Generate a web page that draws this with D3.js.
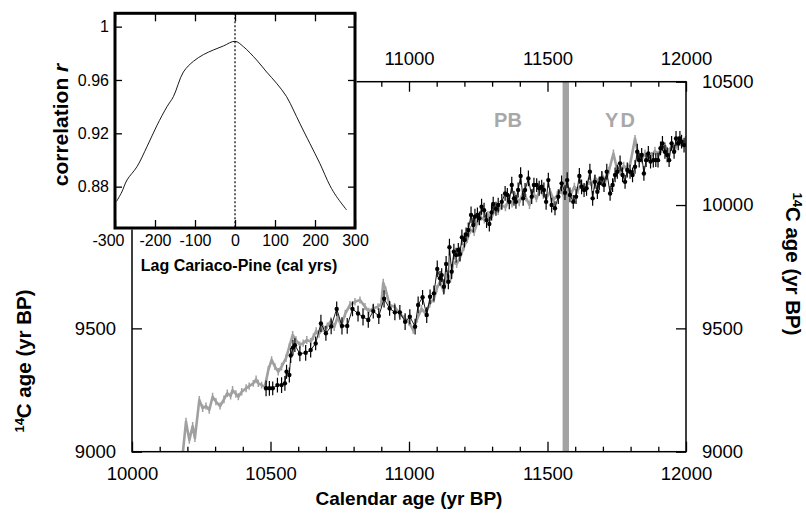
<!DOCTYPE html>
<html><head><meta charset="utf-8">
<script src="https://cdn.jsdelivr.net/npm/d3@7"></script>
<style>
body{margin:0;background:#fff;}
svg{display:block;font-family:"Liberation Sans",Arial,Helvetica,sans-serif;}
</style></head>
<body><svg id="c" width="806" height="516"></svg>
<script>
// ---- data ----
const xTicksMain = [10000, 10500, 11000, 11500, 12000];
const xTicksTop = [11000, 11500, 12000];
const yTicksLeft = [9000, 9500];
const yTicksRight = [9000, 9500, 10000, 10500];
const lagTicks = [-300, -200, -100, 0, 100, 200, 300];
const corrTicks = [0.88, 0.92, 0.96, 1];
const pbydBoundary = 11566;

// Correlation vs lag (inset)
const lags = [-296,-283,-270,-245,-220,-195,-170,-154,-129,-104,-79,-54,-29,0,21,54,79,104,129,146,162,187,212,237,254,279];
const corr = [0.869,0.876,0.885,0.895,0.910,0.926,0.940,0.9475,0.966,0.974,0.979,0.9825,0.9855,0.989,0.985,0.975,0.966,0.9575,0.9475,0.9375,0.9275,0.9125,0.8975,0.881,0.8725,0.8625];

// Pine (tree-ring) series: [cal yr, 14C age, 1-sigma]
const pine = [
[10183,8990,15],[10195,9122,16],[10207,9047,15],[10219,9104,16],[10227,9054,15],[10243,9210,16],
[10255,9176,15],[10267,9185,14],[10279,9169,15],[10291,9223,16],[10303,9203,15],[10318,9185,14],
[10332,9212,16],[10344,9237,15],[10356,9226,14],[10363,9250,16],[10375,9234,15],[10384,9223,14],
[10396,9243,15],[10412,9257,16],[10423,9266,15],[10438,9277,14],[10448,9293,16],[10456,9277,15],
[10468,9270,14],[10480,9263,15],[10492,9331,16],[10504,9372,15],[10516,9345,14],[10528,9324,15],
[10540,9345,16],[10556,9379,15],[10568,9426,14],[10580,9473,16],[10592,9453,15],[10606,9433,14],
[10618,9440,15],[10631,9453,16],[10645,9446,15],[10655,9466,14],[10665,9490,15],[10675,9478,16],
[10690,9500,15],[10705,9510,14],[10718,9530,15],[10730,9505,16],[10742,9545,15],[10755,9512,14],
[10770,9560,15],[10787,9595,16],[10805,9608,15],[10823,9615,14],[10841,9588,15],[10855,9568,16],
[10870,9581,15],[10888,9588,14],[10900,9600,15],[10907,9685,16],[10916,9655,15],[10930,9595,14],
[10948,9588,15],[10965,9560,16],[10985,9540,15],[11000,9525,14],[11015,9493,15],[11030,9540,16],
[11045,9580,15],[11060,9560,14],[11075,9600,15],[11090,9620,16],[11100,9660,15],[11112,9690,14],
[11125,9650,15],[11138,9720,16],[11150,9700,15],[11160,9770,14],[11172,9760,15],[11185,9790,16],
[11198,9830,15],[11210,9860,14],[11222,9900,15],[11235,9890,16],[11248,9935,15],[11260,9950,14],
[11272,9940,15],[11285,9960,16],[11298,9950,15],[11310,9980,14],[11322,9975,15],[11335,10000,16],
[11348,9990,15],[11360,10020,14],[11372,10005,15],[11385,10035,16],[11398,10010,15],[11410,10045,14],
[11422,10030,15],[11435,10000,16],[11448,10050,15],[11460,10025,14],[11472,10060,15],[11485,10040,16],
[11497,10030,15],[11510,10055,14],[11522,10020,15],[11535,10040,16],[11548,10060,15],[11560,10035,14],
[11572,10050,15],[11585,10045,16],[11597,10075,15],[11610,10060,14],[11622,10085,15],[11635,10070,16],
[11648,10095,15],[11660,10080,14],[11672,10110,15],[11685,10095,16],[11698,10120,15],[11710,10100,14],
[11722,10140,15],[11738,10209,16],[11750,10150,15],[11762,10135,14],[11775,10160,15],[11788,10145,16],
[11800,10175,15],[11816,10270,14],[11828,10200,15],[11840,10185,16],[11852,10210,15],[11864,10195,14],
[11876,10200,15],[11888,10220,16],[11900,10205,15],[11912,10225,14],[11925,10240,15],[11938,10215,16],
[11950,10245,15],[11962,10230,14],[11975,10260,15],[11988,10250,16],[11998,10265,15]
];

// Cariaco Basin series: [cal yr, 14C age, 1-sigma]
const cariaco = [
[10484,9257,32],[10496,9257,30],[10508,9257,28],[10525,9270,30],[10540,9270,32],[10552,9277,30],
[10558,9324,28],[10568,9311,30],[10573,9390,30],[10581,9422,32],[10588,9432,28],
[10606,9397,30],[10627,9401,32],[10645,9412,30],[10663,9439,28],[10682,9520,35],
[10700,9480,30],[10719,9508,32],[10739,9579,30],[10758,9510,35],[10777,9510,32],
[10796,9579,30],[10816,9560,32],[10834,9547,35],[10853,9534,32],[10871,9570,30],
[10891,9550,32],[10910,9620,35],[10930,9581,30],[10949,9565,32],[10967,9565,30],
[10986,9527,34],[11003,9547,30],[11022,9507,32],[11033,9595,34],[11049,9626,30],
[11064,9554,32],[11076,9628,30],[11090,9642,32],[11102,9741,34],[11112,9703,30],
[11118,9716,28],[11126,9669,30],[11134,9761,32],[11142,9689,30],[11146,9829,34],
[11154,9730,30],[11162,9811,32],[11170,9797,30],[11178,9818,28],[11184,9801,30],
[11191,9869,32],[11200,9858,30],[11206,9881,28],[11214,9899,30],[11224,9960,34],
[11232,9919,30],[11238,9953,32],[11247,9960,30],[11254,9946,28],[11262,9993,32],
[11271,9979,30],[11280,9939,32],[11290,9923,30],[11298,9970,32],[11304,10004,30],
[11314,9985,28],[11322,10000,30],[11335,10013,32],[11347,10047,30],[11355,10041,28],
[11362,10013,30],[11371,10081,34],[11379,10027,30],[11386,10013,28],[11394,10061,30],
[11403,10118,35],[11412,10027,30],[11419,10061,28],[11431,10108,32],[11443,10034,30],
[11451,10081,30],[11461,10081,28],[11470,10068,30],[11479,10074,28],[11487,10061,30],
[11495,10013,32],[11503,10101,30],[11515,10000,30],[11527,9987,28],[11539,10034,30],
[11551,10088,32],[11563,10050,30],[11571,10101,32],[11581,10041,30],[11593,10013,28],
[11603,10034,30],[11615,10118,32],[11623,10074,30],[11632,10061,28],[11641,10068,30],
[11653,10135,32],[11663,10027,30],[11671,10094,28],[11680,10054,30],[11687,10088,28],
[11696,10108,30],[11704,10081,28],[11714,10135,32],[11726,10047,30],[11735,10081,28],
[11744,10122,30],[11752,10135,28],[11762,10169,32],[11771,10122,30],[11780,10094,28],
[11788,10142,30],[11798,10135,28],[11807,10122,30],[11816,10155,28],[11824,10216,32],
[11831,10182,30],[11840,10203,28],[11848,10128,30],[11856,10182,28],[11864,10209,30],
[11872,10176,28],[11882,10182,30],[11891,10182,28],[11899,10182,30],[11908,10230,28],
[11915,10250,30],[11924,10216,28],[11932,10203,30],[11939,10182,28],[11948,10250,30],
[11957,10216,28],[11964,10270,30],[11972,10250,28],[11978,10270,30],[11984,10257,28],
[11993,10243,30]
];

// ---- drawing ----
const svg = d3.select("#c");
const L = 132, R = 686, T = 81.7, B = 451.7;
const x = d3.scaleLinear().domain([10000, 12000]).range([L, R]);
const y = d3.scaleLinear().domain([9000, 10500]).range([B, T]);
const grey = "#a0a0a0";
const tickFont = "18.5px";

svg.append("defs").append("clipPath").attr("id", "plotclip")
  .append("rect").attr("x", L).attr("y", T).attr("width", R - L).attr("height", B - T);

const plot = svg.append("g").attr("clip-path", "url(#plotclip)");

// Pine error bars + line
plot.append("g").selectAll("line").data(pine).join("line")
  .attr("x1", d => x(d[0])).attr("x2", d => x(d[0]))
  .attr("y1", d => y(d[1] - d[2])).attr("y2", d => y(d[1] + d[2]))
  .attr("stroke", grey).attr("stroke-width", 1.5);
plot.append("path").datum(pine)
  .attr("d", d3.line().x(d => x(d[0])).y(d => y(d[1])))
  .attr("fill", "none").attr("stroke", grey).attr("stroke-width", 2.6)
  .attr("stroke-linejoin", "round");

// PB/YD boundary bar
plot.append("rect").attr("x", x(pbydBoundary) - 3.2).attr("y", T)
  .attr("width", 6.4).attr("height", B - T).attr("fill", "#a3a3a3");

// Cariaco error bars, line, points
plot.append("g").selectAll("line").data(cariaco).join("line")
  .attr("x1", d => x(d[0])).attr("x2", d => x(d[0]))
  .attr("y1", d => y(d[1] - d[2])).attr("y2", d => y(d[1] + d[2]))
  .attr("stroke", "#000").attr("stroke-width", 1.2);
plot.append("path").datum(cariaco)
  .attr("d", d3.line().x(d => x(d[0])).y(d => y(d[1])))
  .attr("fill", "none").attr("stroke", "#000").attr("stroke-width", 0.9);
plot.append("g").selectAll("circle").data(cariaco).join("circle")
  .attr("cx", d => x(d[0])).attr("cy", d => y(d[1])).attr("r", 2.2).attr("fill", "#000");

// Labels PB / YD
svg.append("text").attr("x", 508).attr("y", 127).attr("text-anchor", "middle")
  .attr("font-size", "20px").attr("font-weight", "bold").attr("fill", "#a8a8a8").text("PB");
svg.append("text").attr("x", 621).attr("y", 127).attr("text-anchor", "middle")
  .attr("font-size", "20px").attr("font-weight", "bold").attr("fill", "#a8a8a8")
  .attr("letter-spacing", "2px").text("YD");

// Frame
svg.append("rect").attr("x", L).attr("y", T).attr("width", R - L).attr("height", B - T)
  .attr("fill", "none").attr("stroke", "#000").attr("stroke-width", 1.5);

function styleAxis(g) {
  g.select(".domain").remove();
  g.selectAll(".tick line").attr("stroke", "#000").attr("stroke-width", 1.3);
  g.selectAll(".tick text").attr("font-size", tickFont).attr("fill", "#000")
    .attr("font-family", "Liberation Sans, Arial, sans-serif");
}
const minorYears = d3.range(10100, 12000, 100).filter(v => v % 500 !== 0);
const plain = d => String(d);

// bottom
svg.append("g").attr("transform", `translate(0,${B})`)
  .call(d3.axisBottom(x).tickValues(minorYears).tickSize(-5).tickFormat(""))
  .call(styleAxis);
svg.append("g").attr("transform", `translate(0,${B})`)
  .call(d3.axisBottom(x).tickValues(xTicksMain).tickSize(-10).tickPadding(15).tickFormat(plain))
  .call(styleAxis);
// top
svg.append("g").attr("transform", `translate(0,${T})`)
  .call(d3.axisTop(x).tickValues(minorYears).tickSize(-5).tickFormat(""))
  .call(styleAxis);
svg.append("g").attr("transform", `translate(0,${T})`)
  .call(d3.axisTop(x).tickValues(xTicksMain).tickSize(-10).tickPadding(17)
    .tickFormat(d => xTicksTop.includes(d) ? String(d) : ""))
  .call(styleAxis);
// left
svg.append("g").attr("transform", `translate(${L},0)`)
  .call(d3.axisLeft(y).tickValues(yTicksLeft).tickSize(-10).tickPadding(16).tickFormat(plain))
  .call(styleAxis);
// right
svg.append("g").attr("transform", `translate(${R},0)`)
  .call(d3.axisRight(y).tickValues(yTicksRight).tickSize(-10).tickPadding(16).tickFormat(plain))
  .call(styleAxis);

// axis titles
svg.append("text").attr("x", 409).attr("y", 505).attr("text-anchor", "middle")
  .attr("font-size", "19px").attr("font-weight", "bold").text("Calendar age (yr BP)");

function c14Title(tx, ty, rot) {
  const t = svg.append("text").attr("transform", `translate(${tx},${ty}) rotate(${rot})`)
    .attr("text-anchor", "middle").attr("font-size", "20.5px").attr("font-weight", "bold");
  t.append("tspan").attr("font-size", "13px").attr("dy", "-7").text("14");
  t.append("tspan").attr("dy", "7").text("C age (yr BP)");
}
c14Title(31, 361, -90);
c14Title(786, 264, 90);

// ---- inset ----
const IL = 115, IR = 355, IT = 13.3, IB = 228;
const ix = d3.scaleLinear().domain([-300, 300]).range([IL, IR]);
const iy = d3.scaleLinear().domain([0.849, 1.01]).range([IB, IT]);
const inset = svg.append("g");
inset.append("rect").attr("x", IL - 1.5).attr("y", IT - 1.5).attr("width", IR - IL + 3).attr("height", IB - IT + 3)
  .attr("fill", "#fff");

inset.append("line").attr("x1", ix(0)).attr("x2", ix(0)).attr("y1", IT).attr("y2", IB)
  .attr("stroke", "#000").attr("stroke-width", 1.2).attr("stroke-dasharray", "2,2");

inset.append("path").datum(d3.zip(lags, corr))
  .attr("d", d3.line().x(d => ix(d[0])).y(d => iy(d[1])).curve(d3.curveCatmullRom))
  .attr("fill", "none").attr("stroke", "#000").attr("stroke-width", 0.9);

function styleInset(g) {
  g.select(".domain").remove();
  g.selectAll(".tick line").attr("stroke", "#000").attr("stroke-width", 1.3);
  g.selectAll(".tick text").attr("font-size", "16px").attr("fill", "#000");
}
inset.append("g").attr("transform", `translate(0,${IB})`)
  .call(d3.axisBottom(ix).tickValues(lagTicks).tickSize(-8).tickPadding(7).tickFormat(plain))
  .call(styleInset)
  .call(g => g.selectAll(".tick").filter(d => d === -300).select("text").attr("dx", -7));
inset.append("g").attr("transform", `translate(0,${IT})`)
  .call(d3.axisTop(ix).tickValues(lagTicks).tickSize(-8).tickFormat(""))
  .call(styleInset);
inset.append("g").attr("transform", `translate(${IL},0)`)
  .call(d3.axisLeft(iy).tickValues(corrTicks).tickSize(-7).tickPadding(6).tickFormat(d => d === 1 ? "1" : d3.format(".2f")(d)))
  .call(styleInset);
inset.append("g").attr("transform", `translate(${IR},0)`)
  .call(d3.axisRight(iy).tickValues(corrTicks).tickSize(-7).tickFormat(""))
  .call(styleInset);

inset.append("rect").attr("x", IL).attr("y", IT).attr("width", IR - IL).attr("height", IB - IT)
  .attr("fill", "none").attr("stroke", "#000").attr("stroke-width", 3);

inset.append("text").attr("x", 239).attr("y", 271).attr("text-anchor", "middle")
  .attr("font-size", "16px").attr("font-weight", "bold").text("Lag Cariaco-Pine (cal yrs)");
const cr = inset.append("text").attr("transform", "translate(68,125) rotate(-90)")
  .attr("text-anchor", "middle").attr("font-size", "21px").attr("font-weight", "bold");
cr.append("tspan").text("correlation ");
cr.append("tspan").attr("font-style", "italic").text("r");
</script></body></html>
